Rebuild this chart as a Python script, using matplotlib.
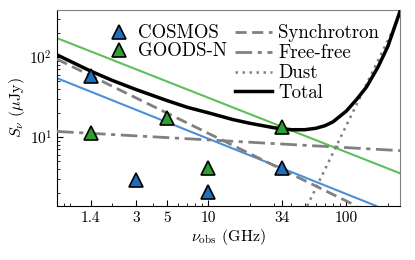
import matplotlib
matplotlib.use("Agg")
import matplotlib.pyplot as plt
from matplotlib.ticker import FixedLocator, FixedFormatter, LogLocator, NullFormatter
from matplotlib.lines import Line2D

plt.rcParams['font.family'] = 'serif'
plt.rcParams['font.serif'] = ['cmr10']
plt.rcParams['mathtext.fontset'] = 'cm'
plt.rcParams['axes.unicode_minus'] = False
plt.rcParams['axes.formatter.use_mathtext'] = True

# Observed points (GHz, uJy)
cosmos_freq = [1.4, 3, 10, 34]
cosmos_flux = [57.9, 2.9, 2.07, 4.1]
goods_freq = [1.4, 5, 10, 34]
goods_flux = [11.3, 17.3, 4.1, 13.4]

# Model components (endpoints)
sync_freq = [0.8, 118.6]
sync_flux = [93.6, 1.37]
ff_freq = [0.8, 245]
ff_flux = [11.7, 6.74]
dust_freq = [52, 245]
dust_flux = [1.37, 330]
blue_freq = [0.8, 165]
blue_flux = [54.2, 1.37]
green_freq = [0.8, 245]
green_flux = [171.5, 3.51]
total_freq = [0.8, 1.4, 2, 3, 5, 7, 10, 15, 20, 30, 40, 50, 60, 70, 80, 100, 120, 140, 170, 200, 245]
total_flux = [105.9, 66.5, 51, 39, 28.5, 23.5, 20, 16.5, 14.8, 13.0, 12.3, 12.3, 12.8, 13.8, 15.4, 21, 30, 42, 75, 135, 370]

xticks = [1.4, 3, 5, 10, 34, 100]
xticklabels = ['1.4', '3', '5', '10', '34', '100']

W, H = 415.0, 260.0
fig = plt.figure(figsize=(4.15, 2.6), dpi=100)
ax = fig.add_axes([57 / W, 1 - 206 / H, 343 / W, 196 / H])
ax.set_xscale('log')
ax.set_yscale('log')

gray = '#808080'
blue_line = '#4a90d9'
green_line = '#5cbf5c'
blue_mk = '#1f6fbf'
green_mk = '#2ca02c'
ax.plot(green_freq, green_flux, color=green_line, lw=1.5, zorder=2)
ax.plot(blue_freq, blue_flux, color=blue_line, lw=1.5, zorder=2)
ax.plot(sync_freq, sync_flux, color=gray, lw=2, ls=(0, (4, 2)), zorder=3)
ax.plot(ff_freq, ff_flux, color=gray, lw=2, ls=(0, (6, 2, 1.5, 2)), zorder=3)
ax.plot(dust_freq, dust_flux, color=gray, lw=1.8, ls=(0, (1, 1.8)), zorder=3)
ax.plot(total_freq, total_flux, color='black', lw=2.5, zorder=4)

mk = dict(ls='none', marker='^', ms=10, mec='black', mew=1.2)
ax.plot(cosmos_freq, cosmos_flux, mfc=blue_mk, zorder=5, **mk)
ax.plot(goods_freq, goods_flux, mfc=green_mk, zorder=5, **mk)

ax.set_xlim(0.8, 245)
ax.set_ylim(1.37, 385)
ax.xaxis.set_major_locator(FixedLocator(xticks))
ax.xaxis.set_major_formatter(FixedFormatter(xticklabels))
ax.xaxis.set_minor_locator(LogLocator(base=10, subs=range(1, 10), numticks=20))
ax.xaxis.set_minor_formatter(NullFormatter())
ax.tick_params(which='both', direction='in', labelsize=11)
ax.tick_params(which='major', length=4)
ax.tick_params(which='minor', length=2)
for s in ['top', 'right']:
    ax.spines[s].set_color(gray)

ax.set_xlabel(r'$\nu_{\rm obs}$ (GHz)', fontsize=11.5, labelpad=2)
ax.set_ylabel(r'$S_\nu$ ($\mu$Jy)', fontsize=11.5, labelpad=2)

lfs = 13.6
h1 = [Line2D([], [], mfc=blue_mk, **mk), Line2D([], [], mfc=green_mk, **mk)]
leg1 = ax.legend(h1, ['COSMOS', 'GOODS-N'], loc='upper left',
                 bbox_to_anchor=(104.6 / W, 1 - 24.5 / H), bbox_transform=fig.transFigure,
                 frameon=False, fontsize=lfs, handlelength=1.55, handletextpad=0.2,
                 labelspacing=0.0, borderpad=0, borderaxespad=0)
ax.add_artist(leg1)
h2 = [Line2D([], [], color=gray, lw=2, ls=(0, (4, 2))),
      Line2D([], [], color=gray, lw=2, ls=(0, (6, 2, 1.5, 2))),
      Line2D([], [], color=gray, lw=1.8, ls=(0, (1, 1.8))),
      Line2D([], [], color='black', lw=2.5)]
ax.legend(h2, ['Synchrotron', 'Free-free', 'Dust', 'Total'], loc='upper left',
          bbox_to_anchor=(235 / W, 1 - 24.5 / H), bbox_transform=fig.transFigure,
          frameon=False, fontsize=lfs, handlelength=1.95, handletextpad=0.33,
          labelspacing=0.1, borderpad=0, borderaxespad=0)

fig.savefig('out.png', dpi=100)
